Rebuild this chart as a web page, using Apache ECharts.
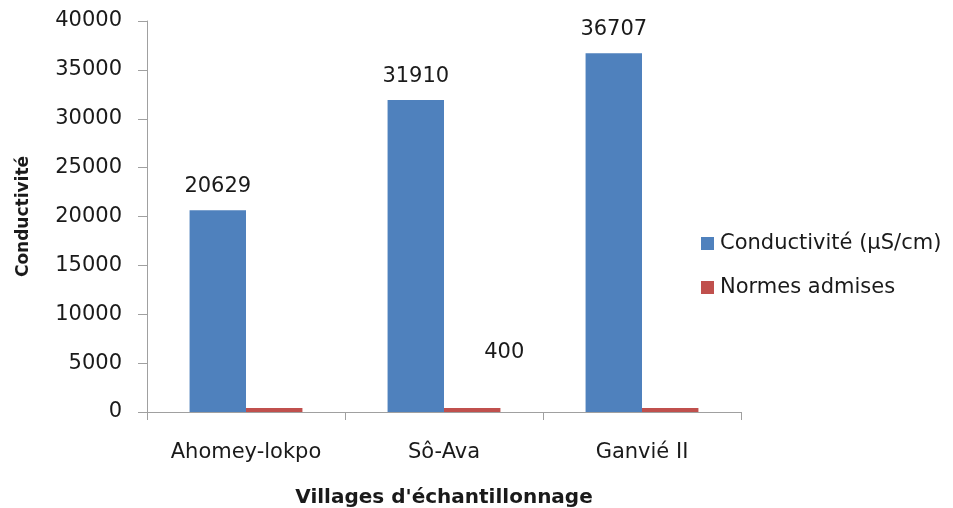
<!DOCTYPE html>
<html>
<head>
<meta charset="utf-8">
<script src="https://cdn.jsdelivr.net/npm/echarts@6/dist/echarts.min.js"></script>
<style>
  html, body { margin: 0; padding: 0; background: #fff; }
  #chart { width: 953px; height: 508px; }
</style>
</head>
<body>
<div id="chart"></div>
<script>
// Conductivity per sampling village vs. admitted standard
const villages = ['Ahomey-lokpo', 'Sô-Ava', 'Ganvié II'];
const conductivite = [20629, 31910, 36707];
const normes = [400, 400, 400];
const yTicks = { min: 0, max: 40000, interval: 5000 };
const seriesNames = ['Conductivité (µS/cm)', 'Normes admises'];

const FONT = 'DejaVu Sans';
const axisGray = '#a0a0a0';
const textColor = '#1a1a1a';

const chart = echarts.init(document.getElementById('chart'), null, { renderer: 'canvas' });

chart.setOption({
  animation: false,
  backgroundColor: '#ffffff',
  textStyle: { fontFamily: FONT, color: textColor },
  grid: {
    left: 147, right: 212, top: 21, bottom: 96,
    containLabel: false,
    outerBoundsMode: 'none'
  },
  legend: {
    orient: 'vertical',
    left: 696,
    top: 228,
    itemWidth: 13,
    itemHeight: 13,
    itemGap: 23,
    icon: 'rect',
    textStyle: { fontFamily: FONT, fontSize: 21, color: textColor, padding: [0, 0, 0, 1] },
    data: seriesNames
  },
  xAxis: {
    type: 'category',
    data: villages,
    name: "Villages d'échantillonnage",
    nameLocation: 'middle',
    nameGap: 76,
    nameTextStyle: { fontFamily: FONT, fontWeight: 'bold', fontSize: 20, color: textColor },
    axisLine: { lineStyle: { color: axisGray, width: 1 } },
    axisTick: { show: true, length: 8, lineStyle: { color: axisGray } },
    axisLabel: { fontFamily: FONT, fontSize: 21, color: textColor, margin: 30 }
  },
  yAxis: {
    type: 'value',
    min: yTicks.min,
    max: yTicks.max,
    interval: yTicks.interval,
    name: 'Conductivité',
    nameLocation: 'middle',
    nameGap: 115,
    nameTextStyle: { fontFamily: FONT, fontWeight: 'bold', fontSize: 17, color: textColor },
    axisLine: { show: true, lineStyle: { color: axisGray, width: 1 } },
    axisTick: { show: true, length: 9, lineStyle: { color: axisGray } },
    splitLine: { show: false },
    axisLabel: {
      fontFamily: FONT, fontSize: 21, color: textColor, margin: 25,
      formatter: v => String(v)
    }
  },
  series: [
    {
      name: seriesNames[0],
      type: 'bar',
      data: conductivite,
      barGap: '0%',
      barCategoryGap: '43%',
      itemStyle: { color: '#4f81bd' },
      label: {
        show: true,
        position: 'top',
        distance: 13,
        fontFamily: FONT,
        fontSize: 21,
        color: textColor
      }
    },
    {
      name: seriesNames[1],
      type: 'bar',
      data: normes.map((v, i) => i === 1
        ? { value: v, label: { show: true, position: 'top', offset: [32, -45], distance: 0, fontFamily: FONT, fontSize: 21, color: textColor } }
        : v),
      itemStyle: { color: '#c0504d' },
      label: { show: false }
    }
  ]
});
</script>
</body>
</html>
